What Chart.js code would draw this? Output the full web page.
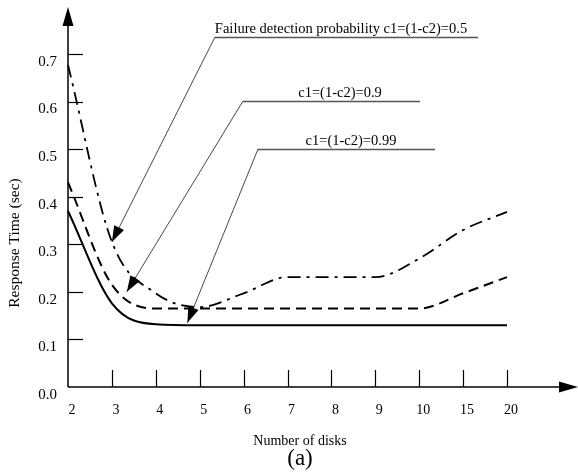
<!DOCTYPE html>
<html>
<head>
<meta charset="utf-8">
<script src="https://cdn.jsdelivr.net/npm/chart.js@4.4.0/dist/chart.umd.min.js"></script>
<style>
html,body{margin:0;padding:0;background:#fff;}
#wrap{position:relative;width:578px;height:472px;}
</style>
</head>
<body>
<div id="wrap"><canvas id="c" width="578" height="472"></canvas></div>
<script>
// ---- data ----
const disks = ['2','3','4','5','6','7','8','9','10','15','20'];
const c05  = [0.677, 0.305, 0.197, 0.168, 0.197, 0.231, 0.231, 0.231, 0.27, 0.33, 0.368];
const c09  = [0.43, 0.215, 0.165, 0.165, 0.165, 0.165, 0.165, 0.165, 0.165, 0.197, 0.231];
const c099 = [0.37, 0.176, 0.132, 0.13, 0.13, 0.13, 0.13, 0.13, 0.13, 0.13, 0.13];
const yTicks = [0, 0.1, 0.2, 0.3, 0.4, 0.5, 0.6, 0.7];
const seriesLabels = ['Failure detection probability c1=(1-c2)=0.5', 'c1=(1-c2)=0.9', 'c1=(1-c2)=0.99'];
// callout tips in data space: [category index, value]
const calloutTips = [[1.0, 0.305], [1.34, 0.2], [2.72, 0.135]];

const SERIF = '"Liberation Serif", "DejaVu Serif", serif';

function arrowHead(ctx, x1, y1, x2, y2, len, half) {
  const a = Math.atan2(y2 - y1, x2 - x1);
  ctx.beginPath();
  ctx.moveTo(x2, y2);
  ctx.lineTo(x2 - len * Math.cos(a) + half * Math.sin(a), y2 - len * Math.sin(a) - half * Math.cos(a));
  ctx.lineTo(x2 - len * Math.cos(a) - half * Math.sin(a), y2 - len * Math.sin(a) + half * Math.cos(a));
  ctx.closePath();
  ctx.fill();
}

const decor = {
  id: 'decor',
  beforeDatasetsDraw(chart) {
    const ctx = chart.ctx, xs = chart.scales.x, ys = chart.scales.y;
    const x0 = xs.left, y0 = ys.getPixelForValue(0);
    ctx.save();
    ctx.strokeStyle = '#000'; ctx.fillStyle = '#000';
    // axes
    ctx.lineWidth = 1.5;
    ctx.beginPath(); ctx.moveTo(x0, y0); ctx.lineTo(x0, 12); ctx.stroke();
    arrowHead(ctx, x0, 40, x0, 7, 19, 5.5);
    ctx.beginPath(); ctx.moveTo(x0, y0); ctx.lineTo(570, y0); ctx.stroke();
    arrowHead(ctx, 540, y0, 578, y0, 19, 5.5);
    // y tick marks (inside)
    ctx.lineWidth = 1.2;
    yTicks.forEach(v => {
      if (v === 0) return;
      const py = Math.round(ys.getPixelForValue(v)) + 0.5;
      ctx.beginPath(); ctx.moveTo(x0, py); ctx.lineTo(x0 + 15, py); ctx.stroke();
    });
    // x tick marks (inside)
    disks.forEach((d, i) => {
      if (i === 0) return;
      const px = Math.round(xs.getPixelForValue(i)) + 0.5;
      ctx.beginPath(); ctx.moveTo(px, y0); ctx.lineTo(px, y0 - 17); ctx.stroke();
    });
    ctx.restore();
  },
  afterDatasetsDraw(chart) {
    const ctx = chart.ctx, xs = chart.scales.x, ys = chart.scales.y;
    ctx.save();
    // callouts
    const labels = [
      {text: seriesLabels[0], tx: 341, ty: 33, ux1: 215, ux2: 478, uy: 37},
      {text: seriesLabels[1], tx: 340, ty: 97, ux1: 243, ux2: 420, uy: 101},
      {text: seriesLabels[2], tx: 351, ty: 145, ux1: 258, ux2: 435, uy: 149}
    ];
    ctx.font = '14.5px ' + SERIF;
    ctx.textAlign = 'center'; ctx.textBaseline = 'alphabetic';
    labels.forEach((l, i) => {
      ctx.fillStyle = '#000';
      ctx.fillText(l.text, l.tx, l.ty);
      ctx.strokeStyle = '#555'; ctx.lineWidth = 1.4;
      ctx.beginPath(); ctx.moveTo(l.ux1, l.uy + 0.5); ctx.lineTo(l.ux2, l.uy + 0.5); ctx.stroke();
      const tip = calloutTips[i];
      const px = xs.getPixelForValue(tip[0]);
      const py = ys.getPixelForValue(tip[1]);
      ctx.strokeStyle = '#333'; ctx.lineWidth = 0.9;
      ctx.beginPath(); ctx.moveTo(l.ux1, l.uy); ctx.lineTo(px, py); ctx.stroke();
      ctx.fillStyle = '#000';
      arrowHead(ctx, l.ux1, l.uy, px, py, 16, 5.5);
    });
    // axis titles
    ctx.fillStyle = '#000';
    ctx.font = '14px ' + SERIF;
    ctx.textAlign = 'center'; ctx.textBaseline = 'middle';
    ctx.fillText('Number of disks', 300, 441);
    ctx.font = '23px ' + SERIF;
    ctx.fillText('(a)', 300, 459);
    ctx.save();
    ctx.translate(15, 243);
    ctx.rotate(-Math.PI / 2);
    ctx.font = '15.5px ' + SERIF;
    ctx.fillText('Response Time (sec)', 0, 0);
    ctx.restore();
    ctx.restore();
  }
};

new Chart(document.getElementById('c'), {
  type: 'line',
  data: {
    labels: disks,
    datasets: [
      {label: seriesLabels[0], data: c05, borderColor: '#000', borderWidth: 1.8, borderDash: [13, 6, 3, 6], pointRadius: 0, cubicInterpolationMode: 'monotone', fill: false},
      {label: seriesLabels[1], data: c09, borderColor: '#000', borderWidth: 2, borderDash: [10, 6], pointRadius: 0, cubicInterpolationMode: 'monotone', fill: false},
      {label: seriesLabels[2], data: c099, borderColor: '#000', borderWidth: 2, pointRadius: 0, cubicInterpolationMode: 'monotone', fill: false}
    ]
  },
  options: {
    responsive: false,
    animation: false,
    events: [],
    layout: {padding: {top: 6.4, right: 71, left: 0, bottom: 0}},
    plugins: {legend: {display: false}, tooltip: {enabled: false}, title: {display: false}},
    scales: {
      x: {
        type: 'category',
        offset: false,
        grid: {display: false, drawTicks: false},
        border: {display: false},
        ticks: {font: {family: SERIF, size: 14}, color: '#000', padding: 15, labelOffset: 4, maxRotation: 0, autoSkip: false},
        afterFit(s) { s.height = 85; }
      },
      y: {
        min: 0, max: 0.8,
        grid: {display: false, drawTicks: false},
        border: {display: false},
        ticks: {
          stepSize: 0.1,
          font: {family: SERIF, size: 15, lineHeight: 0.01}, color: '#000', padding: 11, labelOffset: 8,
          callback: v => (yTicks.some(t => Math.abs(t - v) < 1e-6) ? v.toFixed(1) : '')
        },
        afterFit(s) { s.width = 68; s.paddingTop = 0; s.paddingBottom = 0; }
      }
    }
  },
  plugins: [decor]
});
</script>
</body>
</html>
